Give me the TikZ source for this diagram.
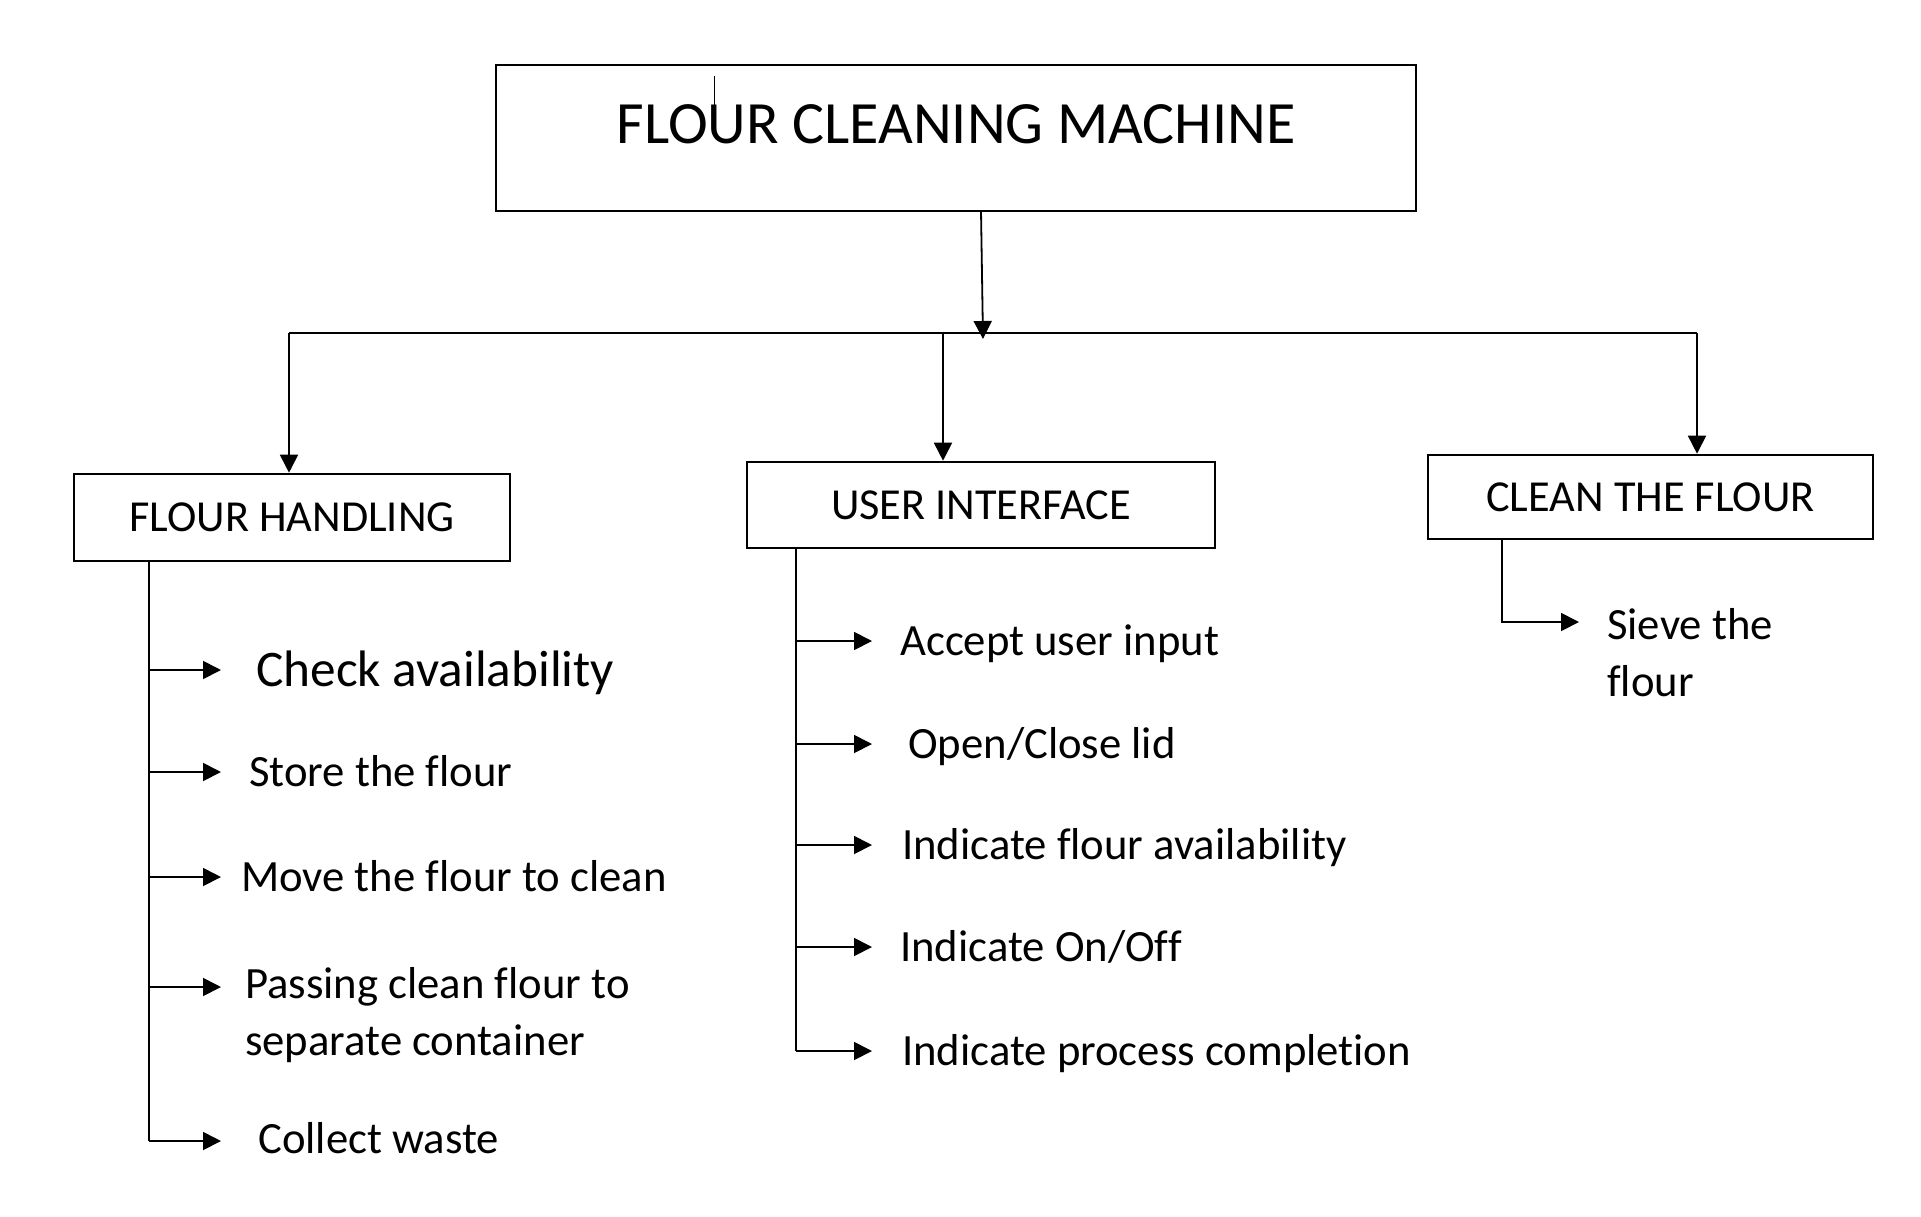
\documentclass[tikz,border=0pt]{standalone}
\usepackage{fontspec}
\setmainfont{Carlito}[Ligatures=NoCommon]
\usetikzlibrary{arrows.meta,calc}
\tikzset{
  box/.style={draw, line width=2.6pt, inner sep=0pt},
  conn/.style={line width=1.8pt},
  arr/.style={conn, -{Triangle[length=18pt,width=18pt]}},
  item/.style={anchor=base west, inner sep=0pt, align=left, font=\fontsize{44.7}{57}\selectfont},
  bigitem/.style={anchor=base west, inner sep=0pt, font=\fontsize{51.3}{60}\selectfont},
  boxtext/.style={font=\fontsize{44.3}{52}\selectfont},
  titletext/.style={inner sep=0pt, font=\fontsize{60}{72}\selectfont}
}
\begin{document}
\begin{tikzpicture}[x=1pt,y=-1pt]
\useasboundingbox[fill=white] (0,0) rectangle (1921,1216);

% top box
\node[box, minimum width=920pt, minimum height=146pt] (top) at (956,138) {};
\node[titletext] (toptext) at (956,124) {FLOUR CLEANING MACHINE};
\draw[line width=0.8pt] (714,76) -- (714,116);

% second level boxes
\node[box, boxtext, minimum width=436pt, minimum height=87pt] (fh) at (292,517.5) {FLOUR HANDLING};
\node[box, boxtext, minimum width=468pt, minimum height=86pt] (ui) at (981,505) {USER INTERFACE};
\node[box, boxtext, minimum width=445pt, minimum height=84pt] (cf) at (1650.5,497) {CLEAN THE FLOUR};

% bus
\coordinate (topout) at (981,211);
\coordinate (busL) at (289,333);
\coordinate (busM) at (983,333);
\coordinate (busR) at (1697,333);
\draw[conn] (busL) -- (busR);
\draw[arr] (topout) -- ($(busM)+(0,6)$);
\draw[arr] (busL) -- (busL |- fh.north);
\draw[arr] (busL -| 943,0) -- (943,0 |- ui.north);
\draw[arr] (busR) -- (busR |- cf.north);

% flour handling items
\node[bigitem] (i1) at (256,686) {Check availability};
\node[item] (i2) at (249,786) {Store the flour};
\node[item] (i3) at (241,891) {Move the flour to clean};
\node[item] (i4) at (245,1055) {Passing clean flour to\\separate container};
\node[item] (i5) at (258,1153) {Collect waste};
\coordinate (fhs) at (149,0 |- fh.south);
\coordinate (a1) at (221,670);
\coordinate (a2) at (221,772);
\coordinate (a3) at (221,877);
\coordinate (a4) at (221,987);
\coordinate (a5) at (221,1141);
\draw[conn] (fhs) -- (fhs |- a5);
\foreach \a in {a1,a2,a3,a4,a5} \draw[arr] (fhs |- \a) -- (\a);

% user interface items
\node[item] (u1) at (900,655) {Accept user input};
\node[item] (u2) at (908,758) {Open/Close lid};
\node[item] (u3) at (902,859) {Indicate flour availability};
\node[item] (u4) at (900,961) {Indicate On/Off};
\node[item] (u5) at (902,1065) {Indicate process completion};
\coordinate (uis) at (796,0 |- ui.south);
\coordinate (b1) at (872,641);
\coordinate (b2) at (872,744);
\coordinate (b3) at (872,845);
\coordinate (b4) at (872,947);
\coordinate (b5) at (872,1051);
\draw[conn] (uis) -- (uis |- b5);
\foreach \b in {b1,b2,b3,b4,b5} \draw[arr] (uis |- \b) -- (\b);

% clean the flour
\node[item] (c1) at (1607,696) {Sieve the\\flour};
\coordinate (cfs) at (1502,0 |- cf.south);
\coordinate (d1) at (1579,622);
\draw[arr] (cfs) |- (d1);
\end{tikzpicture}
\end{document}
